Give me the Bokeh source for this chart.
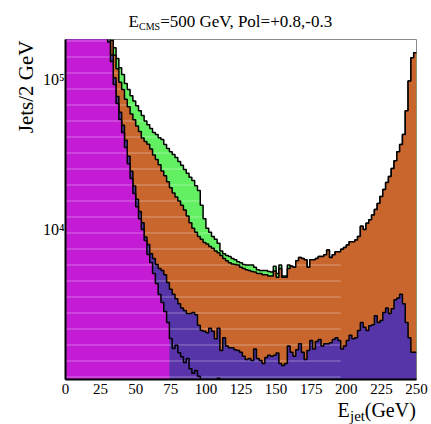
import math
from bokeh.plotting import figure
from bokeh.models import FixedTicker, Label
from bokeh.embed import file_html
from bokeh.resources import INLINE

# ---------------- data ----------------
bin_edges = list(range(0, 252, 2))          # 125 bins of 2 GeV
x_ticks = [0, 25, 50, 75, 100, 125, 150, 175, 200, 225, 250]
y_ticks = [10000, 100000]
y_tick_labels = {10000: "10\u2074", 100000: "10\u2075"}

# cumulative stack levels (Jets / 2 GeV)
green_stack = [
    1100000, 1000000, 920000, 840000, 770000, 700000, 640000, 580000, 530000, 480000,
    435000, 395000, 355000, 320000, 285000, 240000, 195000, 163000, 138000, 120000,
    108000, 94000, 86000, 78000, 72000, 67000, 62000, 57500, 53000, 50000,
    47200, 44300, 43000, 41000, 39800, 36900, 34700, 33000, 31600, 30200,
    28400, 26800, 25100, 23700, 22300, 21200, 19600, 18200, 14500, 11800,
    10200, 9600, 9000, 8600, 8100, 7200, 6900, 6700, 6600, 6400,
    6300, 6100, 6000, 5850, 5800, 5800, 5800, 5600, 5400, 5330,
    5330, 5330, 5250, 5200, 5700, 5100, 5800, 4900, 4900, 5800,
    5700, 5600, 6200, 6500, 6400, 6300, 5600, 6300, 6300, 6400,
    6600, 6600, 6800, 7300, 6500, 6800, 7100, 7100, 7400, 7600,
    7900, 8300, 8300, 8500, 9000, 10500, 10000, 11000, 11600, 12500,
    13600, 14900, 16600, 18500, 20600, 22600, 25500, 28800, 33000, 36900,
    43000, 62000, 98000, 140000, 151000,
]
orange_stack = [
    1000000, 930000, 860000, 790000, 720000, 660000, 600000, 550000, 500000, 455000,
    415000, 375000, 340000, 305000, 270000, 230000, 182000, 145000, 118000, 96000,
    86000, 74000, 66000, 59000, 54000, 49000, 45000, 40800, 38600, 37000,
    34400, 31400, 29300, 27000, 24600, 22800, 20800, 19000, 17500, 16500,
    15500, 14500, 13500, 12300, 11100, 10200, 9600, 9000, 8600, 8200,
    8000, 7700, 7500, 7200, 7000, 6700, 6400, 6200, 6000, 5900,
    5850, 5800, 5600, 5500, 5400, 5330, 5250, 5200, 5100, 5100,
    5000, 5000, 4900, 4900, 5300, 4800, 5500, 4800, 4800, 5500,
    5700, 5600, 6200, 6500, 6400, 6300, 5600, 6300, 6300, 6400,
    6600, 6600, 6800, 7300, 6500, 6800, 7100, 7100, 7400, 7600,
    7900, 8300, 8300, 8500, 9000, 10500, 10000, 11000, 11600, 12500,
    13600, 14900, 16600, 18500, 20600, 22600, 25500, 28800, 33000, 36900,
    43000, 62000, 98000, 140000, 151000,
]
blue_stack = [
    950000, 870000, 800000, 720000, 660000, 600000, 545000, 495000, 450000, 410000,
    370000, 335000, 300000, 270000, 235000, 196000, 146000, 103000, 77000, 60500,
    49500, 39400, 30800, 24500, 19500, 15900, 13200, 11100, 8900, 7950,
    6900, 6400, 5850, 5500, 5330, 5000, 4430, 4000, 3700, 3450,
    3200, 3000, 2880, 2750, 2750, 2800, 2700, 2300, 2120, 2100,
    2050, 2200, 2100, 1870, 2200, 1560, 1900, 1670, 1630, 1630,
    1580, 1560, 1520, 1430, 1360, 1380, 1340, 1600, 1380, 1340,
    1280, 1400, 1450, 1430, 1450, 1500, 1280, 1240, 1280, 1670,
    1520, 1430, 1580, 1730, 1520, 1360, 1560, 1820, 1600, 1790,
    1850, 1670, 1730, 1730, 1760, 1850, 1900, 1820, 1600, 1670,
    1820, 1970, 1870, 1900, 2120, 2400, 2230, 2120, 2280, 2320,
    2660, 2400, 2470, 2800, 3000, 2750, 2960, 3400, 3500, 3700,
    3200, 2400, 1900, 1520, 1520,
]
purple_stack = [
    900000, 820000, 750000, 680000, 620000, 560000, 510000, 460000, 420000, 380000,
    340000, 310000, 280000, 250000, 215000, 178000, 132000, 92600, 69200, 54100,
    44300, 35200, 27500, 21900, 17400, 14200, 11800, 10000, 8450, 6810,
    6030, 5090, 4370, 3690, 3260, 2840, 2400, 1880, 1610, 1690,
    1510, 1420, 1300, 1380, 1180, 1100, 1150, 1050, 970, 800,
    800, 800, 800, 800, 1020, 800, 800, 800, 800, 800,
    800, 800, 800, 800, 800, 800, 800, 800, 800, 800,
    800, 800, 800, 800, 800, 800, 800, 800, 800, 800,
    800, 800, 800, 800, 800, 800, 800, 800, 800, 800,
    800, 800, 800, 800, 800, 800, 800, 800, 800, 800,
    800, 800, 800, 800, 800, 800, 800, 800, 800, 800,
    800, 800, 800, 800, 800, 800, 800, 800, 800, 800,
    800, 800, 800, 800, 800,
]
magenta = [
    900000, 820000, 750000, 680000, 620000, 560000, 510000, 460000, 420000, 380000,
    340000, 310000, 280000, 250000, 215000, 178000, 132000, 92600, 69200, 54100,
    44300, 35200, 27500, 21900, 17400, 14200, 11800, 10000, 8450, 6810,
    6030, 5090, 4370, 3690, 3260, 2840, 2400, 600, 600, 600,
    600, 600, 600, 600, 600, 600, 600, 600, 600, 600,
    600, 600, 600, 600, 1020, 600, 600, 600, 600, 600,
    600, 600, 600, 600, 600, 600, 600, 600, 600, 600,
    600, 600, 600, 600, 600, 600, 600, 600, 600, 600,
    600, 600, 600, 600, 600, 600, 600, 600, 600, 600,
    600, 600, 600, 600, 600, 600, 600, 600, 600, 600,
    600, 600, 600, 600, 600, 600, 600, 600, 600, 600,
    600, 600, 600, 600, 600, 600, 600, 600, 600, 600,
    600, 600, 600, 600, 600,
]

# ---------------- figure ----------------
SERIF = "Liberation Serif"
p = figure(width=431, height=424, x_range=(0, 250), y_range=(1000, 185000),
           y_axis_type="log", output_backend="svg", toolbar_location=None,
           min_border_left=65, min_border_right=15, min_border_top=39,
           min_border_bottom=45)
p.background_fill_color = "white"
p.border_fill_color = "white"
p.outline_line_color = "#8a8a8a"
p.outline_line_width = 1
p.grid.visible = False

HATCH_END = 98  # bins carrying the light dashed texture (up to ~196 GeV)


def ext(vals):
    return list(vals) + [vals[-1]]


def layer(vals, color, outline=True):
    p.varea_step(x=bin_edges, y1=[100] * len(bin_edges), y2=ext(vals),
                 step_mode="after", fill_color=color)
    p.varea_step(x=bin_edges[:HATCH_END + 1], y1=[100] * (HATCH_END + 1),
                 y2=list(vals[:HATCH_END]) + [vals[HATCH_END - 1]],
                 step_mode="after", fill_alpha=0, hatch_pattern="-",
                 hatch_color="white", hatch_alpha=0.35, hatch_scale=16, hatch_weight=1)
    if outline:
        p.step(x=bin_edges, y=ext(vals), mode="after", line_color="black", line_width=1.5)


layer(green_stack, "#62f062")
layer(orange_stack, "#c8662e")
layer(blue_stack, "#5535a8")
layer(purple_stack, "#5a33ab", outline=False)
layer(magenta, "#c41cd4", outline=False)
p.step(x=bin_edges, y=ext(purple_stack), mode="after", line_color="black", line_width=1.5)

# axes
p.xaxis.ticker = FixedTicker(ticks=x_ticks)
p.yaxis.ticker = FixedTicker(ticks=y_ticks)
p.yaxis.major_label_overrides = y_tick_labels
for ax in (p.xaxis, p.yaxis):
    ax.axis_line_color = "black"
    ax.axis_line_width = 2
    ax.major_tick_in = 0
    ax.major_tick_out = 0
    ax.minor_tick_in = 0
    ax.minor_tick_out = 0
    ax.major_label_text_font = SERIF
    ax.major_label_text_color = "black"
p.xaxis.major_label_text_font_size = "15px"
p.yaxis.major_label_text_font_size = "16px"
p.xaxis.major_label_standoff = 4
p.yaxis.major_label_standoff = 1


# texts outside the frame (canvas pixel coordinates); each sits in a side
# panel that has room to spare so the frame keeps its place
def txt(place, x, y, s, size, align="left", angle=0.0, baseline="alphabetic"):
    p.add_layout(Label(x=x, y=y, x_units="canvas", y_units="canvas", text=s,
                       text_font=SERIF, text_font_size=size, text_color="black",
                       text_align=align, text_baseline=baseline, angle=angle), place)


NB = "\u00a0"
txt("above", 128, 21, "E" + NB * 5 + "=500 GeV, Pol=+0.8,-0.3", "17px")
txt("above", 138.5, 26, "CMS", "10px")
txt("below", 337, 420, "E" + NB * 3 + "(GeV)", "20px", baseline="bottom")
txt("left", 349.5, 423, "jet", "15px", baseline="bottom")
txt("left", 25, 40, "Jets/2 GeV", "21px", align="right", angle=math.pi / 2)

open("out.html", "w").write(file_html(p, INLINE))
